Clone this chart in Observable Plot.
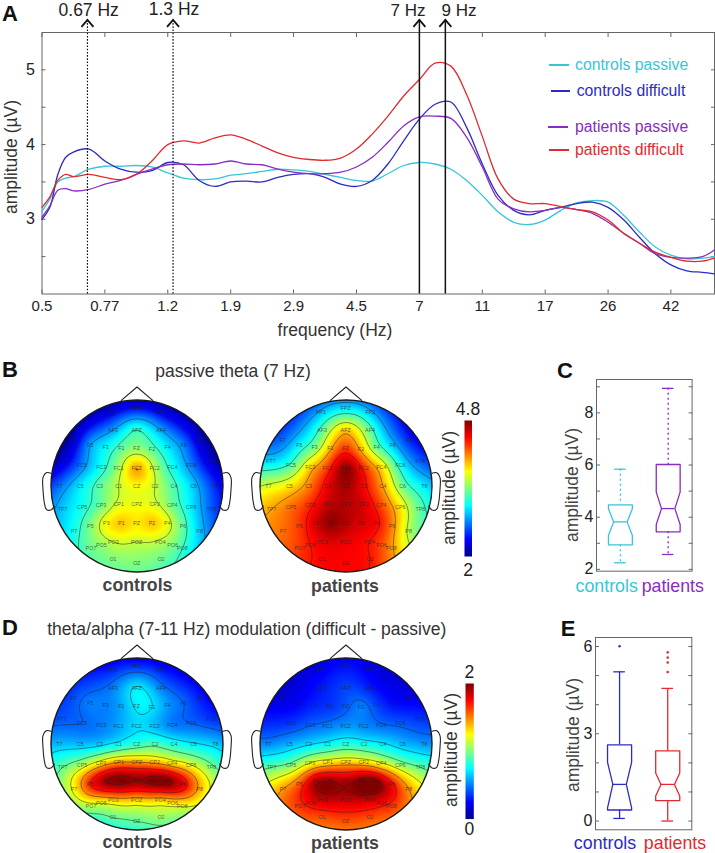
<!DOCTYPE html>
<html><head><meta charset="utf-8">
<style>
body{margin:0;background:#fff;font-family:"Liberation Sans",Arial,sans-serif;}
#page{position:relative;width:715px;height:853px;overflow:hidden;}
#page svg{position:absolute;background:transparent;max-width:none;overflow:visible;}
.t{position:absolute;white-space:nowrap;line-height:1;transform:translate(-50%,-50%);}
</style>
<script src="https://cdn.jsdelivr.net/npm/d3@7"></script>
<script src="https://cdn.jsdelivr.net/npm/@observablehq/plot@0.6"></script>
</head><body><div id="page"></div>
<script>
// ---------- Panel A data ----------
const freq=[.5,.5285,.559,.591,.624,.697,.779,.87,.972,1.086,1.214,1.356,1.515,1.693,1.892,2.114,2.362,2.639,2.948,3.294,3.681,4.112,4.595,5.134,5.736,6.409,7.161,8,8.94,9.99,11.16,12.47,13.93,15.56,17.39,19.43,21.71,24.26,27.1,30.3,33.8,37.8,42.2,47.2,52.7,57.4];
const controlsPassive=[3.11,3.27,3.5,3.55,3.57,3.67,3.71,3.71,3.72,3.7,3.62,3.55,3.53,3.54,3.59,3.61,3.64,3.67,3.66,3.64,3.6,3.56,3.52,3.51,3.61,3.72,3.76,3.74,3.67,3.52,3.32,3.1,2.96,2.93,2.99,3.12,3.22,3.25,3.23,3.05,2.83,2.63,2.52,2.47,2.48,2.5];
const controlsDifficult=[3,3.16,3.6,3.83,3.9,3.94,3.78,3.67,3.63,3.65,3.76,3.73,3.52,3.44,3.5,3.51,3.5,3.56,3.6,3.61,3.56,3.47,3.44,3.52,3.74,4.05,4.34,4.54,4.57,4.23,3.74,3.32,3.12,3.06,3.12,3.16,3.21,3.23,3.16,2.99,2.76,2.54,2.39,2.31,2.29,2.27];
const patientsPassive=[3.03,3.18,3.39,3.41,3.38,3.4,3.47,3.52,3.6,3.67,3.73,3.74,3.73,3.74,3.78,3.74,3.73,3.67,3.63,3.61,3.61,3.63,3.7,3.83,4.03,4.25,4.37,4.38,4.35,4.1,3.7,3.27,3.14,3.1,3.12,3.16,3.13,3.08,2.96,2.81,2.68,2.54,2.49,2.48,2.5,2.59];
const patientsDifficult=[3.16,3.3,3.52,3.6,3.57,3.6,3.56,3.53,3.6,3.78,4,4.05,4.02,4.09,4.13,4.07,3.98,3.89,3.83,3.8,3.79,3.82,3.94,4.14,4.38,4.65,4.87,5.09,5.05,4.67,4.11,3.54,3.27,3.21,3.21,3.17,3.13,3.1,2.99,2.81,2.68,2.56,2.49,2.44,2.44,2.48];
const seriesNames=["controls passive","controls difficult","patients passive","patients difficult"];
const seriesColors=["#35c6d8","#2c2cc4","#8a2cc0","#e02a30"];
const tickPositions=[.5,.779,1.214,1.892,2.948,4.595,7.161,11.16,17.39,27.1,42.2];
const tickLabels=["0.5","0.77","1.2","1.9","2.9","4.5","7","11","17","26","42"];
const markerFreq=[.689,1.26,7.161,8.6];
const markerLabels=["0.67 Hz","1.3 Hz","7 Hz","9 Hz"];

// ---------- Topography data ----------
const elecNames=["FP1","FPZ","FP2","AF3","AFZ","AF4","F7","F5","F3","F1","FZ","F2","F4","F6","F8","FT7","FC5","FC3","FC1","FCZ","FC2","FC4","FC6","FT8","T7","C5","C3","C1","CZ","C2","C4","C6","T8","TP7","CP5","CP3","CP1","CPZ","CP2","CP4","CP6","TP8","P7","P5","P3","P1","PZ","P2","P4","P6","P8","PO7","PO5","PO3","POZ","PO4","PO6","PO8","O1","OZ","O2"];
const elecX=[245,319,393,248,319,392,130,180,226,273,319,365,412,460,510,95,155,213,265,319,373,426,483,543,87,150,208,265,319,374,431,490,555,97,155,212,265,319,373,426,483,543,131,180,228,273,319,365,411,458,508,182,213,249,319,390,427,456,248,319,392];
const elecY=[168,158,168,223,222,222,252,268,275,277,278,280,275,268,252,315,327,335,337,337,337,335,328,315,390,390,390,390,390,390,390,390,390,460,453,447,445,445,445,447,453,460,525,512,503,501,501,501,503,512,525,578,568,558,558,558,567,578,611,622,611];
const passiveControls=[2.3,2.4,2.3,2.8,3.2,2.8,2.2,2.8,3.05,3.3,3.45,3.3,3,2.7,2.2,2.2,2.7,3.1,3.5,4,3.55,3.1,2.7,2.2,2.65,3,3.3,3.6,3.75,3.6,3.25,2.9,2.45,2.9,3.1,3.35,3.65,3.7,3.65,3.35,3,2.6,3.1,3.4,3.75,3.9,3.8,3.9,3.7,3.3,2.9,3.35,3.45,3.6,3.6,3.55,3.4,3.2,3.4,3.4,3.35];
const passivePatients=[2.85,3,2.85,3.3,3.9,3.3,2.65,3.05,3.4,3.95,4.3,3.95,3.35,2.9,2.45,2.95,3.25,3.9,4.3,4.75,4.35,3.85,3.1,2.6,3.65,3.8,4.1,4.5,4.7,4.45,4,3.35,3,4,4.15,4.35,4.6,4.65,4.55,4.25,3.8,3.3,4.15,4.3,4.55,4.75,4.65,4.55,4.45,4.1,3.55,4.3,4.4,4.5,4.5,4.4,4.25,4.05,4.45,4.45,4.4];
const modControls=[.32,.35,.3,.5,.72,.5,.4,.5,.5,.58,.72,.7,.55,.45,.3,.42,.45,.5,.58,.68,.62,.5,.45,.35,.62,.62,.65,.75,.85,.9,.8,.72,.65,.95,1.1,1.3,1.45,1.45,1.4,1.3,1.2,1,1.25,1.7,1.95,2,1.95,2,2,1.8,1.4,1.1,1.2,1.35,1.35,1.35,1.3,1.2,.95,.95,1.05];
const modPatients=[.22,.28,.22,.3,.38,.3,.18,.25,.32,.35,.42,.5,.38,.27,.22,.3,.35,.45,.5,.55,.52,.47,.42,.35,.52,.6,.68,.75,.82,.78,.72,.62,.55,.95,1,1.2,1.3,1.35,1.32,1.2,1.05,.95,1.45,1.6,1.9,1.95,1.9,2,2,1.75,1.45,1.65,1.75,1.85,1.85,1.85,1.75,1.65,1.6,1.6,1.6];
const noseX=[273,320,367], noseY=[133,93,133];
const earLeftX=[62,48,38,38,42,48,62,72], earRightX=[578,592,602,602,598,592,578,568], earY=[352,350,365,400,440,460,462,450];
const jetColors=["#00008f","#0000ff","#00ffff","#ffff00","#ff0000","#800000"];
const jetStops=[0,.125,.375,.625,.875,1];

// ---------- Box plot data ----------
const groupsC=["controls","patients"], colorsC=["#35c6d8","#8a2cc0"];
const lowC=[2.25,2.57], q1C=[2.94,3.44], notchLowC=[3.3,3.72], medianC=[3.82,4.33], notchHighC=[4.32,4.96], q3C=[4.47,6.02], highC=[5.84,8.94];
const groupsE=["controls","patients"], colorsE=["#2c2cc4","#e02a30"];
const lowE=[.09,0], q1E=[.38,.7], notchLowE=[.45,.86], medianE=[1.26,1.26], notchHighE=[2.02,1.65], q3E=[2.62,2.41], highE=[5.13,4.56];
const outliersE=[[6.01],[5.8,5.62,5.45,5.12]];

// ---------- helpers ----------
const page=document.getElementById("page");
const FONT='"Liberation Sans",Arial,sans-serif';
function place(p,left,top){p.style.left=left+"px";p.style.top=top+"px";page.appendChild(p);}
function label(s,x,y,o={}){const d=document.createElement("div");d.className="t";d.textContent=s;
  d.style.left=x+"px";d.style.top=y+"px";d.style.fontSize=(o.size||17.5)+"px";d.style.color=o.color||"#333";
  if(o.weight)d.style.fontWeight=o.weight;
  if(o.rotate)d.style.transform="translate(-50%,-50%) rotate(-90deg)";
  page.appendChild(d);}
const chevron={draw(c){c.moveTo(-6,7);c.lineTo(0,0);c.lineTo(6,7);}};

// ---------- Panel A ----------
const rows=seriesNames.map((n,s)=>freq.map((f,i)=>({f,v:[controlsPassive,controlsDifficult,patientsPassive,patientsDifficult][s][i]})));
const axisOpt={tickSize:-4,fill:"none",stroke:"#666",label:null};
place(Plot.plot({width:715,height:345,marginLeft:41.5,marginRight:1,marginTop:32,marginBottom:51.5,
  style:{fontFamily:FONT},
  x:{type:"log",domain:[.5,57.4]},y:{domain:[2,5.5]},
  marks:[
    Plot.frame({stroke:"#666"}),
    Plot.axisX({...axisOpt,anchor:"bottom",ticks:tickPositions,tickFormat:()=>""}),
    Plot.axisX({...axisOpt,anchor:"top",ticks:tickPositions,tickFormat:()=>""}),
    Plot.axisY({...axisOpt,anchor:"left",ticks:[2.5,3,3.5,4,4.5,5]}),
    Plot.axisY({...axisOpt,anchor:"right",ticks:[2.5,3,3.5,4,4.5,5]}),
    Plot.text(tickPositions,{x:d=>d,frameAnchor:"bottom",lineAnchor:"middle",dy:12,text:(d,i)=>tickLabels[i],fontSize:15,fill:"#222"}),
    Plot.axisY({anchor:"left",ticks:[3,4,5],tickFormat:"d",tickSize:0,tickPadding:7,label:null,fontSize:16,fill:"#222",stroke:"none"}),
    ...rows.map((r,s)=>Plot.line(r,{x:"f",y:"v",stroke:seriesColors[s],strokeWidth:1.3,curve:"catmull-rom"})),
    Plot.ruleX(markerFreq.slice(0,2),{y1:2,y2:5.67,stroke:"#111",strokeWidth:1.2,strokeDasharray:"1.6,1.6"}),
    Plot.ruleX(markerFreq.slice(2),{y1:2,y2:5.67,stroke:"#111",strokeWidth:1.5}),
    Plot.dot(markerFreq,{x:d=>d,y:()=>5.67,symbol:chevron,fill:"none",stroke:"#111",strokeWidth:1.8})
  ]}),0,0);
label("frequency (Hz)",335,331);
label("amplitude (µV)",12,157,{rotate:true});
label(markerLabels[0],88.7,11,{color:"#222"});
label(markerLabels[1],174,9.5,{color:"#222"});
label(markerLabels[2],408,10,{color:"#222",size:17});
label(markerLabels[3],459,10,{color:"#222",size:17});
const legendRows=[[65,549,569,575],[91,551,570,576.7],[127,548,568,575],[150,549,568.5,575]];
seriesNames.forEach((n,i)=>{const [y,a,b,tx]=legendRows[i];
  const l=document.createElement("div");l.style.cssText=`position:absolute;left:${a}px;top:${y-.7}px;width:${b-a}px;height:1.4px;background:${seriesColors[i]}`;page.appendChild(l);
  const t=document.createElement("div");t.textContent=n;t.style.cssText=`position:absolute;left:${tx}px;top:${y-8.5}px;font-size:15.8px;line-height:1;white-space:nowrap;color:${seriesColors[i]}`;page.appendChild(t);});

// ---------- Topographies ----------
function biharmonic(index,w,h,X,Y,V){
  const ids=Array.from(index),n=ids.length,px=ids.map(i=>X[i]),py=ids.map(i=>Y[i]),v=ids.map(i=>+V[i]);
  const g=(dx,dy)=>{const r2=(dx*dx+dy*dy)/(w*w);return r2>0?r2*(Math.log(r2)/2-1):0;};
  const A=[];for(let i=0;i<n;i++){const row=[];for(let j=0;j<n;j++)row.push(g(px[i]-px[j],py[i]-py[j]));row.push(v[i]);A.push(row);}
  for(let c=0;c<n;c++){let p=c;for(let r=c+1;r<n;r++)if(Math.abs(A[r][c])>Math.abs(A[p][c]))p=r;[A[c],A[p]]=[A[p],A[c]];
    for(let r=c+1;r<n;r++){const k=A[r][c]/A[c][c];for(let j=c;j<=n;j++)A[r][j]-=k*A[c][j];}}
  const a=new Float64Array(n);for(let i=n-1;i>=0;i--){let s=A[i][n];for(let j=i+1;j<n;j++)s-=A[i][j]*a[j];a[i]=s/A[i][i];}
  const out=new Float64Array(w*h);
  for(let y=0;y<h;y++)for(let x=0;x<w;x++){let s=0;for(let i=0;i<n;i++)s+=a[i]*g(x+.5-px[i],y+.5-py[i]);out[y*w+x]=s;}
  return out;
}
let clipId=0;
function clipHead(index,scales,values,dims,ctx,next){
  const g=next(index,scales,values,dims,ctx);
  const ns="http://www.w3.org/2000/svg",id="head"+(++clipId);
  const cp=document.createElementNS(ns,"clipPath");cp.setAttribute("id",id);
  const c=document.createElementNS(ns,"circle");
  c.setAttribute("cx",scales.x(320));c.setAttribute("cy",scales.y(390));c.setAttribute("r",Math.abs(scales.x(578)-scales.x(320)));
  cp.appendChild(c);g.appendChild(cp);g.setAttribute("clip-path",`url(#${id})`);return g;
}
const xy=(a,b)=>a.map((x,i)=>({x,y:b[i]}));
function topo(values,lo,hi,thresholds,cx,cy){
  const data=elecNames.map((name,i)=>({name,x:elecX[i],y:elecY[i],v:values[i]}));
  const domain=jetStops.map(t=>lo+t*(hi-lo));
  place(Plot.plot({width:215,height:215,margin:0,style:{fontFamily:FONT},
    x:{domain:[-2.5,642.5],axis:null},y:{domain:[712.5,67.5],axis:null},
    color:{type:"linear",domain,range:jetColors,interpolate:"rgb",clamp:true},
    marks:[
      Plot.raster(data,{x:"x",y:"y",fill:"v",interpolate:biharmonic,pixelSize:1,render:clipHead}),
      Plot.contour(data,{x:"x",y:"y",value:"v",thresholds,interpolate:biharmonic,pixelSize:1,stroke:"#222",strokeOpacity:.7,strokeWidth:.7,fill:"none",render:clipHead}),
      Plot.text(data,{x:"x",y:"y",text:"name",fontSize:5.4,fill:"#222",fillOpacity:.7}),
      Plot.dot([{x:320,y:390}],{x:"x",y:"y",r:86,stroke:"#1a1a1a",strokeWidth:1.4,fill:"none"}),
      Plot.line(xy(noseX,noseY),{x:"x",y:"y",stroke:"#222",strokeWidth:1.1}),
      Plot.line(xy(earLeftX,earY),{x:"x",y:"y",stroke:"#222",strokeWidth:1.1,curve:"catmull-rom"}),
      Plot.line(xy(earRightX,earY),{x:"x",y:"y",stroke:"#222",strokeWidth:1.1,curve:"catmull-rom"})
    ]}),cx-107.5,cy-107.5);
}
function colorbar(lo,hi,left,top,w,h){
  const domain=jetStops.map(t=>lo+t*(hi-lo));
  place(Plot.plot({width:w,height:h,margin:0,x:{domain:[0,1],axis:null},y:{domain:[lo,hi],axis:null},
    color:{type:"linear",domain,range:jetColors,interpolate:"rgb"},
    marks:[Plot.raster({fill:(x,y)=>y,x1:0,x2:1,y1:lo,y2:hi,pixelSize:1})]}),left,top);
}
const thrB=[2.4,2.8,3.2,3.6,4,4.4], thrD=[.45,.7,.95,1.2,1.45,1.7,1.95];
topo(passiveControls,2,4.8,thrB,136.7,485.4);
topo(passivePatients,2,4.8,thrB,345,485.2);
topo(modControls,0,2,thrD,136.7,743.8);
topo(modPatients,0,2,thrD,345,743.8);
colorbar(2,4.8,463.7,420,7.5,136);
colorbar(0,2,465,682.7,8.3,135.6);
label("passive theta (7 Hz)",233,372);
label("theta/alpha (7-11 Hz) modulation (difficult - passive)",246.7,630);
const bold={weight:"bold",color:"#444",size:17.7};
label("controls",137.5,586,bold);label("patients",345,586.5,bold);
label("controls",137.5,843,bold);label("patients",345,843.5,bold);
label("4.8",468,410,{color:"#222"});label("2",468,571,{color:"#222"});
label("amplitude (µV)",450,488,{rotate:true});
label("2",469.3,673,{color:"#222"});label("0",469.3,830,{color:"#222"});
label("amplitude (µV)",452.3,750,{rotate:true});

// ---------- Box plots ----------
function boxes(o){
  const idx=[0,1];
  const marks=[
    Plot.frame({stroke:"#666"}),
    Plot.axisY({...axisOpt,anchor:"left",ticks:o.minor}),
    Plot.axisY({...axisOpt,anchor:"right",ticks:o.minor}),
    Plot.axisY({anchor:"left",ticks:o.major,tickFormat:"d",tickSize:0,tickPadding:o.pad,label:null,fontSize:16,fill:"#222",stroke:"none"})
  ];
  idx.forEach(i=>{
    const c=i+1,w=.25,nw=.14,cw=.12,st=o.colors[i];
    const outline=[[c-w,o.q1[i]],[c+w,o.q1[i]],[c+w,o.nl[i]],[c+nw,o.med[i]],[c+w,o.nh[i]],[c+w,o.q3[i]],[c-w,o.q3[i]],[c-w,o.nh[i]],[c-nw,o.med[i]],[c-w,o.nl[i]],[c-w,o.q1[i]]];
    marks.push(
      Plot.ruleX([c],{y1:o.high[i],y2:o.q3[i],stroke:st,strokeWidth:1.3,strokeDasharray:o.dash}),
      Plot.ruleX([c],{y1:o.q1[i],y2:o.low[i],stroke:st,strokeWidth:1.3,strokeDasharray:o.dash}),
      Plot.ruleY([o.high[i]],{x1:c-cw,x2:c+cw,stroke:st,strokeWidth:1.3}),
      Plot.ruleY([o.low[i]],{x1:c-cw,x2:c+cw,stroke:st,strokeWidth:1.3}),
      Plot.line(outline,{x:d=>d[0],y:d=>d[1],stroke:st,strokeWidth:1.3}),
      Plot.ruleY([o.med[i]],{x1:c-nw,x2:c+nw,stroke:st,strokeWidth:1.3})
    );
    if(o.out)marks.push(Plot.dot(o.out[i],{x:()=>c,y:d=>d,r:1.1,fill:st,stroke:st,strokeWidth:.5}));
  });
  place(Plot.plot({width:o.w,height:o.h,margin:0,style:{fontFamily:FONT},
    x:{domain:[.5,2.5],axis:null},y:{domain:o.domain},marks}),o.left,o.top);
}
boxes({left:595.7,top:379,w:95.6,h:191.7,domain:[1.93,9.28],minor:[3,4,5,6,7,8,9,2],major:[2,4,6,8],pad:3,colors:colorsC,dash:"2,3",
  low:lowC,q1:q1C,nl:notchLowC,med:medianC,nh:notchHighC,q3:q3C,high:highC});
boxes({left:595,top:636.7,w:96.3,h:192.3,domain:[-.3,6.31],minor:[0,1,2,3,4,5,6],major:[0,3,6],pad:3,colors:colorsE,
  low:lowE,q1:q1E,nl:notchLowE,med:medianE,nh:notchHighE,q3:q3E,high:highE,out:outliersE});
label("amplitude (µV)",572.7,485,{color:"#444"  ,rotate:true});
label("amplitude (µV)",574,735,{color:"#444",rotate:true});
label(groupsC[0],606.7,587,{color:colorsC[0],size:17.8});label(groupsC[1],672.8,587,{color:colorsC[1],size:17.8});
label(groupsE[0],605,843.5,{color:colorsE[0],size:17.8});label(groupsE[1],675,843.5,{color:colorsE[1],size:17.8});

// ---------- Panel letters ----------
const big={weight:"bold",color:"#111",size:22};
label("A",10,14,big);label("B",10,370,big);label("C",565,371,big);label("D",10,628,big);label("E",568,629,big);
</script></body></html>
